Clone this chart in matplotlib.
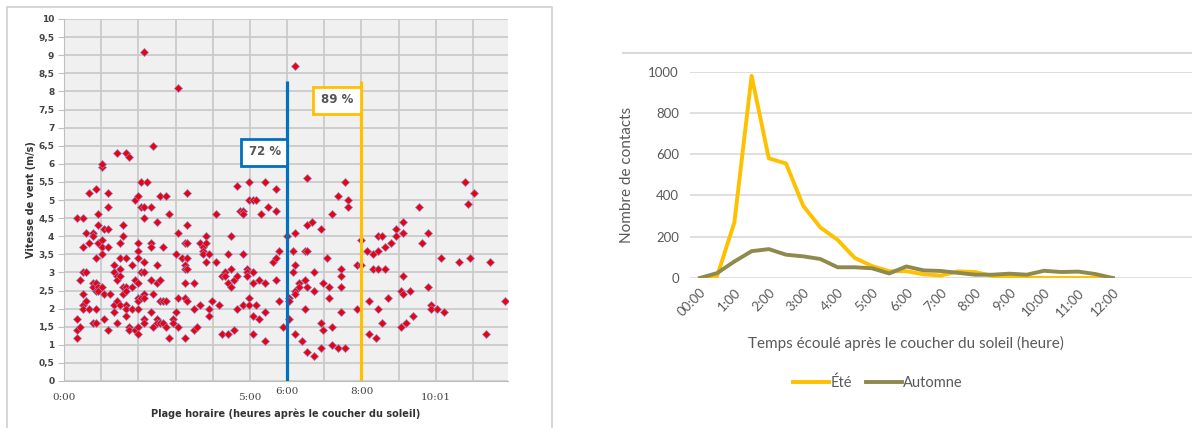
import numpy as np
import matplotlib
matplotlib.use("Agg")
import matplotlib.pyplot as plt
from matplotlib.patches import Rectangle
from matplotlib.lines import Line2D
from matplotlib.ticker import FuncFormatter

# --- nuage de points : vitesse du vent selon l'heure après le coucher du soleil ---
# une colonne = une position horaire (heures), avec les vitesses relevées (m/s)
colonnes_h = [0.34, 0.43, 0.50, 0.59, 0.68, 0.77, 0.86, 0.92, 1.01, 1.08,
              1.17, 1.25, 1.34, 1.42, 1.51, 1.60, 1.67, 1.75, 1.83, 1.91,
              1.99, 2.08, 2.15, 2.24, 2.33, 2.40, 2.49, 2.58, 2.67, 2.74,
              2.83, 2.92, 3.00, 3.07, 3.16, 3.25, 3.32, 3.49, 3.57, 3.66,
              3.75, 3.81, 3.91, 3.99, 4.08, 4.17, 4.24, 4.33, 4.42, 4.49,
              4.58, 4.66, 4.73, 4.82, 4.91, 4.98, 5.07, 5.16, 5.25, 5.31,
              5.40, 5.49, 5.63, 5.70, 5.79, 5.90, 5.99, 6.06, 6.15, 6.21,
              6.32, 6.39, 6.48, 6.54, 6.66, 6.73, 6.90, 6.97, 7.06, 7.13,
              7.22, 7.37, 7.46, 7.55, 7.64, 7.89, 7.98, 8.14, 8.21, 8.30,
              8.38, 8.45, 8.54, 8.63, 8.72, 8.79, 8.94, 9.06, 9.12, 9.21,
              9.30, 9.39, 9.55, 9.64, 9.79, 9.86, 10.02, 10.13, 10.22, 10.63,
              10.78, 10.87, 10.93, 11.02, 11.36, 11.45, 11.85]
colonnes_v = [[4.5, 1.7, 1.4, 1.2], [2.8, 1.5], [4.5, 3.7, 3.0, 2.4, 2.1, 2.0],
              [4.1, 3.0, 2.2], [5.2, 3.8, 2.0], [4.1, 4.0, 2.7, 2.6, 1.6],
              [5.3, 3.4, 2.7, 2.5, 2.0, 1.6], [4.6, 4.3, 3.8, 2.6, 2.5],
              [5.9, 6.0, 3.9, 3.7, 3.5, 2.6], [4.2, 2.4, 1.7],
              [5.2, 4.8, 4.2, 3.7, 1.4], [2.4], [3.2, 3.0, 2.1, 1.9],
              [6.3, 2.9, 2.8, 2.2, 1.6], [3.8, 3.4, 3.1, 2.9, 2.1],
              [4.3, 4.0, 2.6, 2.4], [6.3, 3.4, 2.6, 2.5, 2.1, 2.0, 1.8],
              [6.2, 1.5, 1.4], [3.2, 2.6, 2.0], [5.0, 2.8, 1.4],
              [5.1, 3.8, 3.6, 3.4, 2.7, 2.3, 2.2, 2.0, 1.5, 1.3],
              [5.5, 4.8, 3.0, 2.3], [9.1, 4.8, 4.5, 3.3, 3.0, 2.4, 2.3, 1.7, 1.6],
              [5.5], [4.8, 3.8, 3.7, 2.8, 1.9], [6.5, 2.4, 1.5],
              [4.4, 3.2, 2.7, 1.7, 1.6], [5.1, 2.8, 2.2, 1.6], [3.7, 2.2, 1.6],
              [5.1, 2.2, 1.5], [4.6, 1.2], [1.7, 1.6], [3.5, 1.9],
              [8.1, 4.1, 2.3, 1.5], [3.4], [3.8, 3.2, 3.1, 2.7, 2.3, 1.2],
              [5.2, 4.3, 3.8, 3.4, 3.1, 2.2], [2.7, 2.0, 1.4], [1.5], [3.8, 2.1],
              [3.7, 3.6, 3.5], [4.0, 3.8, 3.3], [3.5, 2.0, 1.8], [2.2],
              [4.6, 3.3], [2.1], [2.9, 1.3], [3.0, 2.9], [3.5, 2.7, 1.3],
              [4.0, 3.1, 2.6], [2.8, 1.4], [5.4, 2.9, 2.0], [4.7],
              [4.7, 4.6, 3.5, 2.1], [3.1, 3.0, 2.9], [5.5, 5.0, 2.3, 2.1],
              [5.0, 3.0, 2.7, 1.8, 1.3], [5.0, 2.1], [2.8, 1.7], [4.6],
              [5.5, 2.7, 1.9, 1.1], [4.8], [3.3], [5.3, 4.7, 3.4, 2.8],
              [3.6, 2.2], [1.5], [4.0], [2.3, 1.7, 2.2], [3.6, 3.0],
              [8.7, 4.1, 3.2, 2.5, 2.4, 1.3], [2.7, 2.6], [1.1], [3.6, 2.8, 2.0],
              [5.6, 4.3, 3.6, 2.6, 0.8], [4.4], [3.0, 2.5, 0.7], [4.2, 1.6, 0.9],
              [2.7, 1.4], [3.4], [2.6, 2.3], [4.6, 1.5, 1.0], [5.1, 0.9],
              [3.1, 2.9, 2.6, 1.9], [5.5, 0.9], [5.0, 4.8], [3.2, 2.0],
              [3.9, 3.2], [3.6], [2.2, 1.3], [3.5, 3.1], [1.2],
              [4.0, 3.6, 3.1, 2.0], [4.0, 1.6], [3.7, 3.1], [2.3], [3.8],
              [4.2, 4.0], [2.5, 1.5], [4.4, 4.1, 2.9, 2.4], [1.6], [2.5], [1.8],
              [4.8], [3.8], [4.1, 2.6], [2.1, 2.0], [2.0], [3.4], [1.9], [3.3],
              [5.5], [4.9], [3.4], [5.2], [1.3], [3.3], [2.2]]

# seuils horaires et pourcentages cumulés associés
seuils_h = [6, 8]
seuils_pct = ["72 %", "89 %"]
seuils_couleurs = ["#0070C0", "#FFC000"]

# --- courbes : nombre de contacts par demi-heure ---
demi_heures = np.arange(0, 12.5, 0.5)
ete = [0, 10, 270, 980, 580, 555, 350, 245, 185, 97, 58, 33, 33, 18, 12,
       32, 29, 10, 6, 1, 0, 0, 0, 0, 0]
automne = [0, 24, 80, 130, 140, 113, 105, 92, 52, 52, 47, 22, 56, 37, 34,
           25, 16, 16, 21, 16, 35, 29, 31, 19, 0]
heures_labels = ["00:00"] + [f"{h}:00" for h in range(1, 13)]

fig = plt.figure(figsize=(11.92, 4.28), dpi=100)
W, H = 1192, 428

def px(x0, y0, x1, y1):
    return [x0 / W, 1 - y1 / H, (x1 - x0) / W, (y1 - y0) / H]

# cadres gris autour des graphiques
fig.patches.append(Rectangle((7 / W, -0.01), (552 - 7) / W, 1 - 7 / H + 0.01,
                             transform=fig.transFigure, fill=False,
                             edgecolor="#D0D0D0", lw=1.2))
fig.lines.append(Line2D([623 / W, 1], [1 - 53 / H] * 2, transform=fig.transFigure,
                        color="#D9D9D9", lw=1.5))

# ---------------- graphique de gauche ----------------
ax = fig.add_axes(px(64, 19, 508, 381))
ax.set_facecolor("#F0F0F0")
xs = np.concatenate([[h] * len(v) for h, v in zip(colonnes_h, colonnes_v)])
ys = np.concatenate(colonnes_v)
ax.plot(xs, ys, linestyle="none", marker="D", markersize=4.2,
        markerfacecolor="#EE0010", markeredgecolor="#8A86C4",
        markeredgewidth=0.5, zorder=3)

ax.set_xlim(0, 11.94)
ax.set_ylim(0, 10)
ax.set_xticks(np.arange(0, 12, 1))
ax.set_xticklabels([])
ax.set_yticks(np.arange(0, 10.01, 0.5))
ax.yaxis.set_major_formatter(FuncFormatter(
    lambda v, p: (f"{v:g}").replace(".", ",")))
ax.grid(True, color="#C8C8C8", lw=1.2)
ax.set_axisbelow(True)
for s in ["top", "right"]:
    ax.spines[s].set_visible(False)
ax.spines["left"].set_color("#BFBFBF")
ax.spines["bottom"].set_color("#BFBFBF")
ax.tick_params(axis="y", length=4, color="#BFBFBF", labelsize=6.5,
               labelcolor="#444444", pad=3)
ax.tick_params(axis="x", length=0)
for lab in ax.get_yticklabels():
    lab.set_fontweight("bold")

# étiquettes horaires sous l'axe
for h, txt, dy in [(0, "0:00", 12), (5, "5:00", 12), (10.0, "10:01", 12),
                   (6, "6:00", 7.5), (8, "8:00", 7.5)]:
    ax.annotate(txt, (h, 0), xytext=(0, -dy), textcoords="offset points",
                ha="center", va="center", fontsize=7.5, color="#444444",
                family="DejaVu Serif", annotation_clip=False)

ax.set_xlabel("Plage horaire (heures après le coucher du soleil)", fontsize=7,
              fontweight="bold", color="#333333", labelpad=16)
ax.set_ylabel("Vitesse de vent (m/s)", fontsize=7, fontweight="bold",
              color="#333333", labelpad=2)

# lignes de seuil et encadrés de pourcentage
boites = [(4.75, 5.94), (6.70, 7.37)]
for h, pct, c, (bx, by) in zip(seuils_h, seuils_pct, seuils_couleurs, boites):
    ax.plot([h, h], [0, 8.3], color=c, lw=2.3, zorder=4, solid_capstyle="butt")
    ax.add_patch(Rectangle((bx, by), h - bx, 0.75, facecolor="white",
                           edgecolor=c, lw=2, zorder=5))
    ax.text(bx + 0.22, by + 0.40, pct, fontsize=8.5, color="#555555",
            family="DejaVu Sans", fontweight="bold", va="center", zorder=6)

# ---------------- graphique de droite ----------------
ax2 = fig.add_axes(px(690, 71.7, 1192, 278))
ax2.set_xlim(-10 / 34.4, 492 / 34.4)
ax2.set_ylim(0, 1000)
ax2.plot(demi_heures, ete, color="#FFC000", lw=2.8, label="Été", zorder=3)
ax2.plot(demi_heures, automne, color="#8E8A4E", lw=2.8, label="Automne", zorder=3)
for s in ax2.spines.values():
    s.set_visible(False)
ax2.set_yticks(np.arange(0, 1001, 200))
ax2.grid(axis="y", color="#D9D9D9", lw=1.2)
ax2.set_axisbelow(True)
ax2.set_xticks(np.arange(0, 13, 1))
ax2.set_xticklabels(heures_labels, rotation=45, ha="right",
                    rotation_mode="anchor")
ax2.tick_params(axis="both", length=0, labelsize=9.5, labelcolor="#595959")
ax2.tick_params(axis="x", pad=6)
ax2.tick_params(axis="y", pad=8)
for lab in ax2.get_xticklabels():
    lab.set_fontfamily("Lato")
for lab in ax2.get_yticklabels():
    lab.set_fontfamily("Lato")
ax2.set_ylabel("Nombre de contacts", fontsize=11, color="#595959",
               family="Lato", labelpad=10)
ax2.text(6, -0.315, "Temps écoulé après le coucher du soleil (heure)",
         transform=ax2.get_xaxis_transform(), ha="center", va="center",
         fontsize=11, color="#595959", family="Lato")
fig.legend(handles=ax2.get_lines(), loc="center",
           bbox_to_anchor=(878 / W, 1 - 383 / H), ncol=2, frameon=False,
           handlelength=2.5, handletextpad=0.1, columnspacing=0.9,
           prop={"family": "Lato", "size": 10.5}, labelcolor="#595959")

fig.savefig("out.png", dpi=100)
